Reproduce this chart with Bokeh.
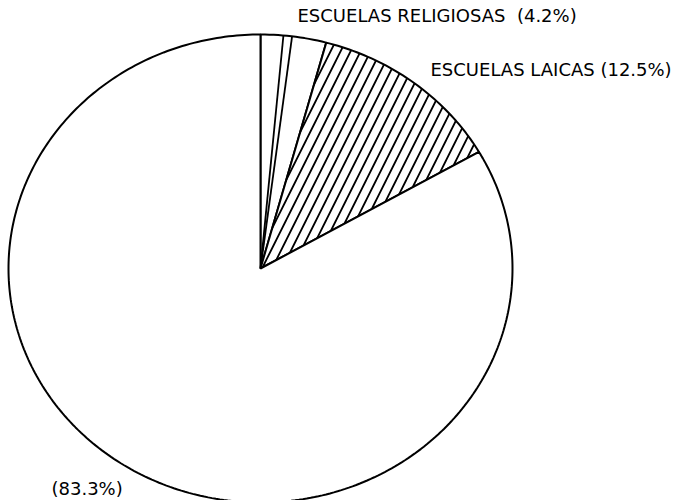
import numpy as np
from bokeh.plotting import figure
from bokeh.models import Range1d, ColumnDataSource
from bokeh.embed import file_html
from bokeh.resources import INLINE
from bokeh.core.properties import value

# ---- data ----
categorias = ["ESCUELAS RELIGIOSAS", "ESCUELAS LAICAS", "OTROS"]
porcentajes = [4.2, 12.5, 83.3]
etiquetas = ["ESCUELAS RELIGIOSAS \u00a0(4.2%)", "ESCUELAS LAICAS (12.5%)", "(83.3%)"]
divisiones_religiosas = [1.45, 2.0]  # internal division lines of the religious slice (%)

# ---- geometry (data units == pixels) ----
W, H = 680, 500
cx, cy = 260, 232
rx, ry = 252, 234


def pt(pct):
    t = 2 * np.pi * pct / 100.0
    return cx + rx * np.sin(t), cy + ry * np.cos(t)


xs, ys = [], []
start = 0.0
for v in porcentajes:
    a = np.linspace(start, start + v, max(int(v * 4), 8))
    xs.append([cx] + [pt(s)[0] for s in a])
    ys.append([cy] + [pt(s)[1] for s in a])
    start += v

p = figure(width=W, height=H, output_backend="svg", toolbar_location=None,
           x_range=Range1d(0, W), y_range=Range1d(0, H), min_border=0)
p.axis.visible = False
p.grid.visible = False
p.outline_line_color = None
p.background_fill_color = "white"

hatches = [" ", "/", " "]
src = ColumnDataSource(dict(xs=xs, ys=ys, hatch=hatches, cat=categorias))
p.patches("xs", "ys", source=src, fill_color="white", line_color="black",
          line_width=2, hatch_pattern="hatch", hatch_color="black",
          hatch_weight=1.8, hatch_scale=20)

# internal lines of religious slice
for d in divisiones_religiosas:
    x1, y1 = pt(d)
    p.line([cx, x1], [cy, y1], line_color="black", line_width=1.8)

# labels
lab_x = [297, 430, 51]
lab_y = [485, 431, 12]
p.text(x=lab_x, y=lab_y, text=etiquetas, text_font=value("DejaVu Sans"),
       text_font_size="18px", text_align="left", text_baseline="middle",
       text_color="black")

open("out.html", "w").write(file_html(p, INLINE))
